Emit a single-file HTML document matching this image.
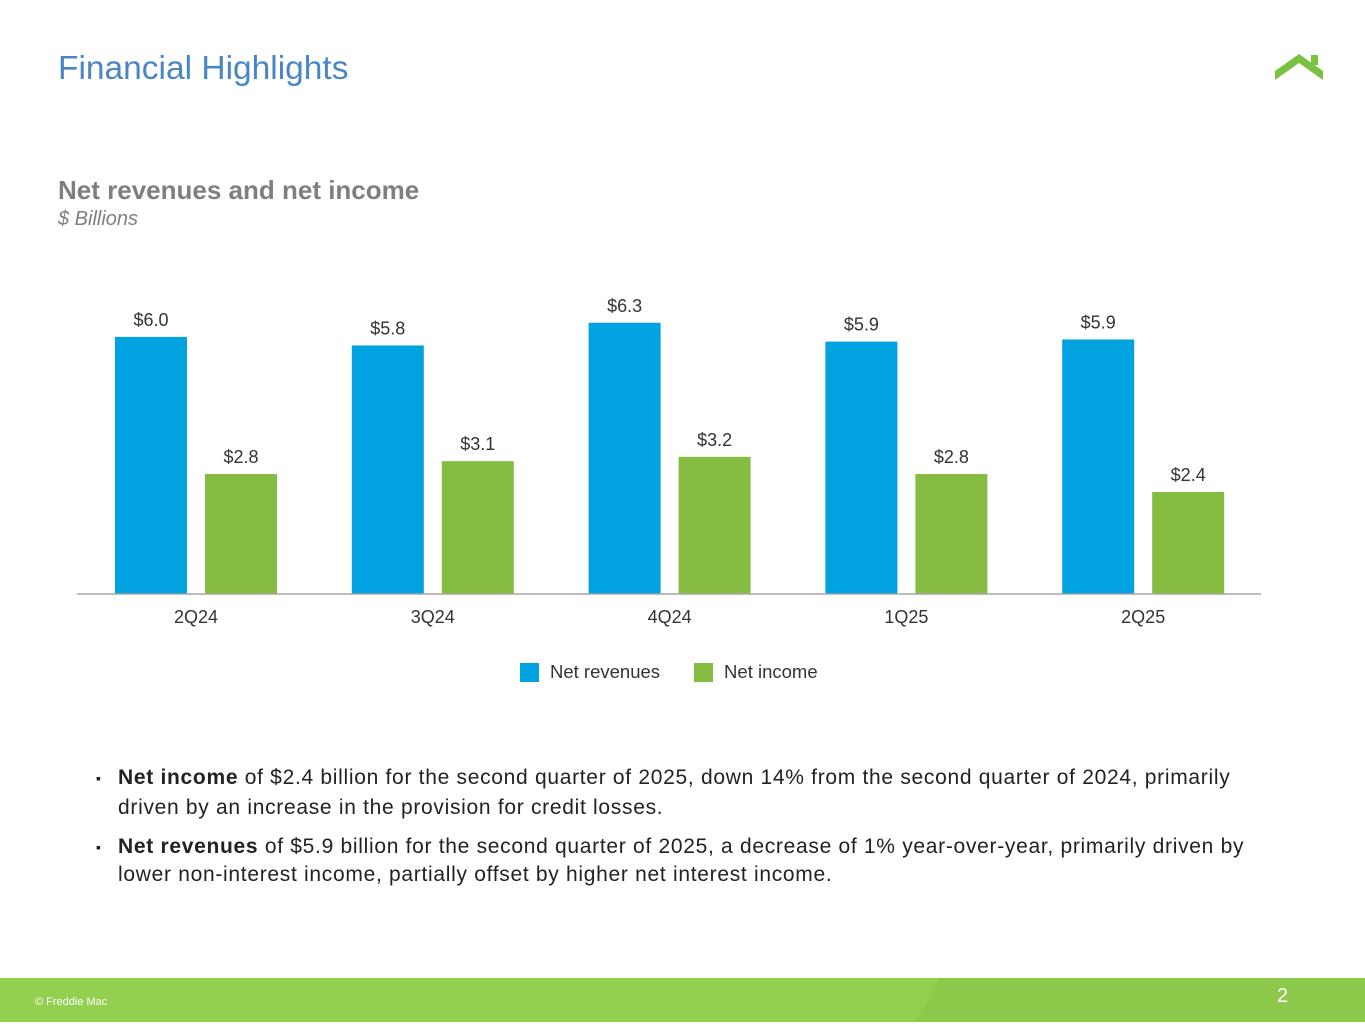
<!DOCTYPE html>
<html><head><meta charset="utf-8"><style>
body{margin:0;width:1365px;height:1024px;position:relative;background:#fff;font-family:"Liberation Sans",Arial,sans-serif;overflow:hidden}
.abs{position:absolute}
</style></head><body>
<div class="abs" style="left:58px;top:50px;font-size:33.5px;color:#4a86c5">Financial Highlights</div>
<svg class="abs" style="left:1270px;top:50px" width="60" height="35"><polygon points="5,30 29,13 53,30 53,21 29,4 5,21" fill="#7cc242"/><rect x="41" y="5" width="7" height="10" fill="#7cc242"/></svg>
<div class="abs" style="left:58px;top:175px;font-size:26px;font-weight:bold;color:#7f7f7f">Net revenues and net income</div>
<div class="abs" style="left:58px;top:208px;font-size:20px;font-style:italic;color:#7f7f7f">$ Billions</div>
<svg id="chart" class="abs" style="left:0;top:0" width="1365" height="700"></svg>
<div class="abs" style="left:520px;top:661px;font-size:18.5px;color:#333;display:flex;align-items:center">
<span style="width:19px;height:19px;background:#00a3e0;display:inline-block;margin-right:11px"></span><span>Net revenues</span>
<span style="width:19px;height:19px;background:#86bc42;display:inline-block;margin:0 11px 0 34px"></span><span>Net income</span></div>
<div class="abs" style="left:96px;top:763px;width:1160px;font-size:21px;letter-spacing:0.7px;color:#222;line-height:30px">
<div style="position:relative;padding-left:22px;margin-bottom:10px"><span style="position:absolute;left:0;top:0;font-size:14px">▪</span><b>Net income</b> of $2.4 billion for the second quarter of 2025, down 14% from the second quarter of 2024, primarily driven by an increase in the provision for credit losses.</div>
<div style="position:relative;padding-left:22px;line-height:28px"><span style="position:absolute;left:0;top:0;font-size:14px">▪</span><b>Net revenues</b> of $5.9 billion for the second quarter of 2025, a decrease of 1% year-over-year, primarily driven by lower non-interest income, partially offset by higher net interest income.</div>
</div>
<div class="abs" style="left:0;top:978px;width:1365px;height:44px;background:#94d050"></div>
<svg class="abs" style="left:0;top:978px" width="1365" height="44"><polygon points="940,0 1365,0 1365,44 915,44" fill="#8cc84a"/></svg>
<div class="abs" style="left:35px;top:996px;font-size:11px;color:#fff">© Freddie Mac</div>
<div class="abs" style="left:1277px;top:985px;font-size:20px;color:#fff">2</div>
<script>
const categories=["2Q24","3Q24","4Q24","1Q25","2Q25"];
const netRevenues=[6.0,5.8,6.33,5.89,5.94];
const netIncome=[2.8,3.1,3.2,2.8,2.38];
const revLabels=["$6.0","$5.8","$6.3","$5.9","$5.9"];
const incLabels=["$2.8","$3.1","$3.2","$2.8","$2.4"];
const svg=document.getElementById('chart');
const NS="http://www.w3.org/2000/svg";
const base=594, scale=42.85, x0=115, step=236.8, bw=72;
const y=v=>base-v*scale;
const xc=(i,s)=>x0+i*step+s*90;
function mk(t,a){const e=document.createElementNS(NS,t);for(const k in a)e.setAttribute(k,a[k]);svg.appendChild(e);return e;}
categories.forEach((c,i)=>{
 [[netRevenues,revLabels,'#00a3e0','net-revenues'],[netIncome,incLabels,'#86bc42','net-income']].forEach((s,j)=>{
  const v=s[0][i];
  const r=mk('rect',{x:xc(i,j),y:y(v),width:bw,height:v*scale,fill:s[2]});
  
  
  const t=mk('text',{x:xc(i,j)+bw/2,y:y(v)-11,'text-anchor':'middle','font-size':18,fill:'#333'});
  t.textContent=s[1][i];
  
  
 });
 const l=mk('text',{x:xc(i,0)+81,y:623,'text-anchor':'middle','font-size':18,fill:'#333'});
 l.textContent=c;
 
 
});
const ax=mk('line',{x1:77,x2:1261,y1:base,y2:base,stroke:'#a6a6a6','stroke-width':1.5});


</script>
</body></html>
